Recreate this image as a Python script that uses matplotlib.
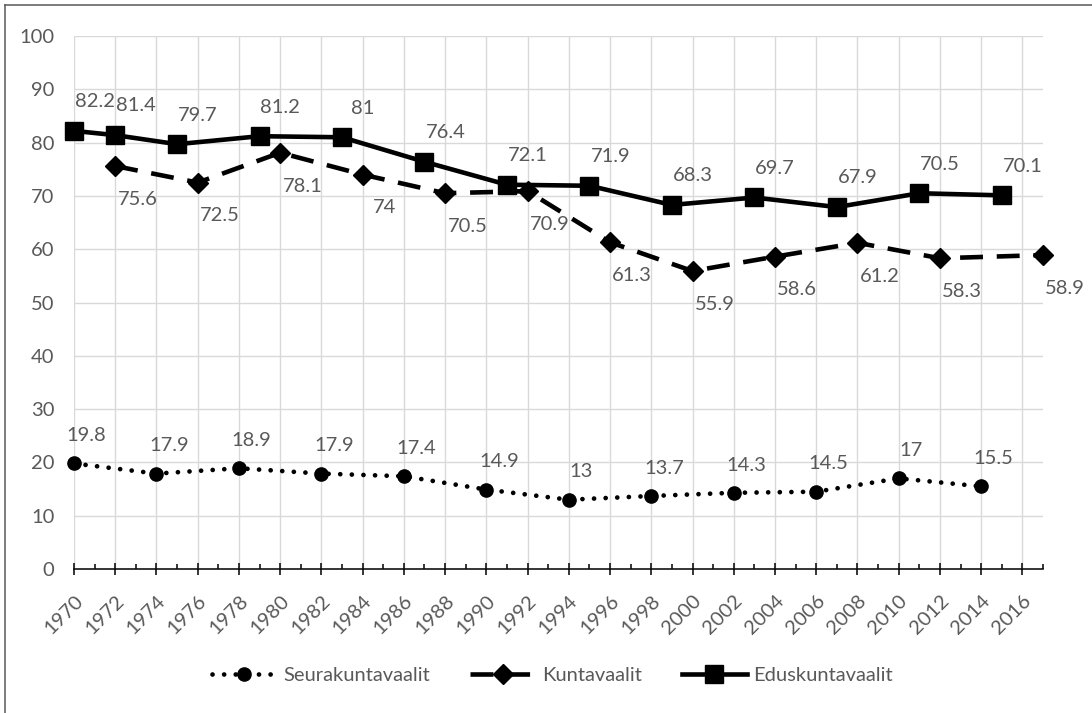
import matplotlib.pyplot as plt
from matplotlib.ticker import MultipleLocator
from matplotlib.lines import Line2D

plt.rcParams['font.family'] = ['Lato', 'DejaVu Sans']

# Äänestysaktiivisuus (%)
seura_vuodet = [1970, 1974, 1978, 1982, 1986, 1990, 1994, 1998, 2002, 2006, 2010, 2014]
seura_arvot = [19.8, 17.9, 18.9, 17.9, 17.4, 14.9, 13, 13.7, 14.3, 14.5, 17, 15.5]

kunta_vuodet = [1972, 1976, 1980, 1984, 1988, 1992, 1996, 2000, 2004, 2008, 2012, 2017]
kunta_arvot = [75.6, 72.5, 78.1, 74, 70.5, 70.9, 61.3, 55.9, 58.6, 61.2, 58.3, 58.9]

edus_vuodet = [1970, 1972, 1975, 1979, 1983, 1987, 1991, 1995, 1999, 2003, 2007, 2011, 2015]
edus_arvot = [82.2, 81.4, 79.7, 81.2, 81, 76.4, 72.1, 71.9, 68.3, 69.7, 67.9, 70.5, 70.1]

harmaa = '#595959'
koko = 14.5

fig = plt.figure(figsize=(10.92, 7.13), dpi=100)
ax = fig.add_axes([74 / 1092, 1 - 569 / 713, (1043 - 74) / 1092, (569 - 36) / 713])

ax.plot(seura_vuodet, seura_arvot, color='black', lw=3.4, linestyle=(0, (0.01, 2.45)),
        dash_capstyle='round', marker='o', markersize=9.5, label='Seurakuntavaalit',
        clip_on=False)
ax.plot(kunta_vuodet, kunta_arvot, color='black', lw=3.3, linestyle=(0, (5, 3)),
        marker='D', markersize=10, label='Kuntavaalit', clip_on=False)
ax.plot(edus_vuodet, edus_arvot, color='black', lw=3.3, linestyle='-',
        marker='s', markersize=13, label='Eduskuntavaalit', clip_on=False)

# arvojen tekstit
def tekstit(vuodet, arvot, dx, dy):
    for v, a in zip(vuodet, arvot):
        ax.annotate(f'{a:g}', (v, a), xytext=(dx, dy), textcoords='offset points',
                    ha='center', va='center', fontsize=koko, color=harmaa)

tekstit(seura_vuodet, seura_arvot, 9, 20)
tekstit(kunta_vuodet, kunta_arvot, 16, -24)
tekstit(edus_vuodet, edus_arvot, 15, 21)

ax.set_xlim(1970, 2017)
ax.set_ylim(0, 100)
ax.xaxis.set_major_locator(MultipleLocator(2))
ax.xaxis.set_minor_locator(MultipleLocator(1))
ax.yaxis.set_major_locator(MultipleLocator(10))
ax.grid(True, which='major', color='#d9d9d9', lw=1)
ax.set_axisbelow(True)

for s in ['top', 'right', 'left']:
    ax.spines[s].set_visible(False)
ax.spines['bottom'].set_color('black')
ax.spines['bottom'].set_linewidth(1.1)

ax.tick_params(axis='x', which='major', direction='inout', length=9, width=1.1,
               labelsize=koko, labelcolor=harmaa, pad=12)
ax.tick_params(axis='x', which='minor', direction='in', length=3.5, width=1.1)
ax.tick_params(axis='y', length=0, labelsize=koko, labelcolor=harmaa, pad=14)
plt.setp(ax.get_xticklabels(), rotation=45, ha='right', rotation_mode='anchor')

fig.legend(loc='center', bbox_to_anchor=(0.506, 0.052), ncol=3, frameon=False,
           fontsize=koko, labelcolor=harmaa, handlelength=3.2, columnspacing=2.0,
           handletextpad=0.35)

# kuvan reunaviivat
fig.add_artist(Line2D([4.5 / 1092, 4.5 / 1092], [0, 1 - 4.5 / 713], color='#595959', lw=1.1))
fig.add_artist(Line2D([4.5 / 1092, 1], [1 - 4.5 / 713, 1 - 4.5 / 713], color='#595959', lw=1.1))

fig.savefig('out.png', dpi=100)
